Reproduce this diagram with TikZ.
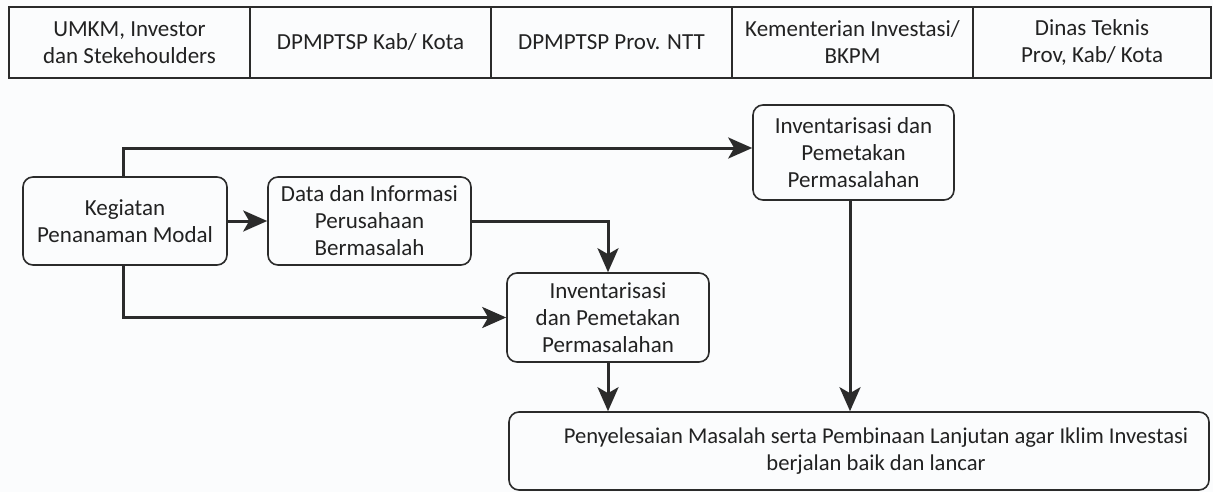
\documentclass[tikz,border=0pt]{standalone}
\usepackage{fontspec}
\setmainfont{Carlito}
\usetikzlibrary{arrows.meta}
\definecolor{ink}{HTML}{2B2B2B}
\definecolor{txt}{HTML}{222222}
\definecolor{bg}{HTML}{FBFCFD}
\tikzset{
  cell/.style={draw=ink, line width=0.7pt, inner sep=0pt, align=center, text=txt,
    font=\fontsize{11.5}{13.5}\selectfont},
  proc/.style={draw=ink, line width=0.8pt, rounded corners=5pt, inner sep=0pt, align=center,
    text=txt, font=\fontsize{11.5}{13.5}\selectfont},
  conn/.style={draw=ink, line width=1.5pt, -{Stealth[length=12pt, width=10.5pt, inset=3pt]}},
}
\begin{document}
\begin{tikzpicture}[x=0.5pt, y=-0.5pt]
\fill[bg] (0,0) rectangle (1213,492);
\useasboundingbox (0,0) rectangle (1213,492);
% header
\node[cell, minimum width=120.5pt, minimum height=35.5pt] (h1) at (129.5,42.5) {UMKM, Investor\\dan Stekehoulders};
\node[cell, minimum width=120.5pt, minimum height=35.5pt] (h2) at (370.5,42.5) {DPMPTSP Kab/ Kota};
\node[cell, minimum width=120.5pt, minimum height=35.5pt] (h3) at (611.5,42.5) {DPMPTSP Prov. NTT};
\node[cell, minimum width=120.5pt, minimum height=35.5pt] (h4) at (852.5,42.5) {Kementerian Investasi/\\BKPM};
\node[cell, minimum width=119pt, minimum height=35.5pt] (h5) at (1092,42.5) {Dinas Teknis\\Prov, Kab/ Kota};
% process boxes
\node[proc, minimum width=102pt, minimum height=44pt] (k) at (125,221) {Kegiatan\\Penanaman Modal};
\node[proc, minimum width=101.5pt, minimum height=44pt] (d) at (369.5,221) {Data dan Informasi\\Perusahaan\\Bermasalah};
\node[proc, minimum width=101pt, minimum height=44.5pt] (i2) at (608,317.5) {Inventarisasi\\dan Pemetakan\\Permasalahan};
\node[proc, minimum width=100.5pt, minimum height=47.5pt] (i1) at (853.5,152.5) {Inventarisasi dan\\Pemetakan\\Permasalahan};
\node[proc, minimum width=350pt, minimum height=39pt] (f) at (859,451) {};
\node[align=center, text=txt, inner sep=0pt, font=\fontsize{11.3}{13.5}\selectfont] (ft) at (876,451)
  {Penyelesaian Masalah serta Pembinaan Lanjutan agar Iklim Investasi\\berjalan baik dan lancar};
% connectors
\coordinate (kt) at (123,148);
\draw[conn] (k.east) -- (d.west);
\draw[conn] (k.north -| kt) -- (kt) -- (kt -| i1.west);
\draw[conn] (k.south -| kt) |- (i2.west);
\draw[conn] (d.east) -| (i2.north);
\draw[conn] (i2.south) -- (i2.south |- f.north);
\draw[conn] (i1.south -| 850,0) -- (f.north -| 850,0);
\end{tikzpicture}
\end{document}
